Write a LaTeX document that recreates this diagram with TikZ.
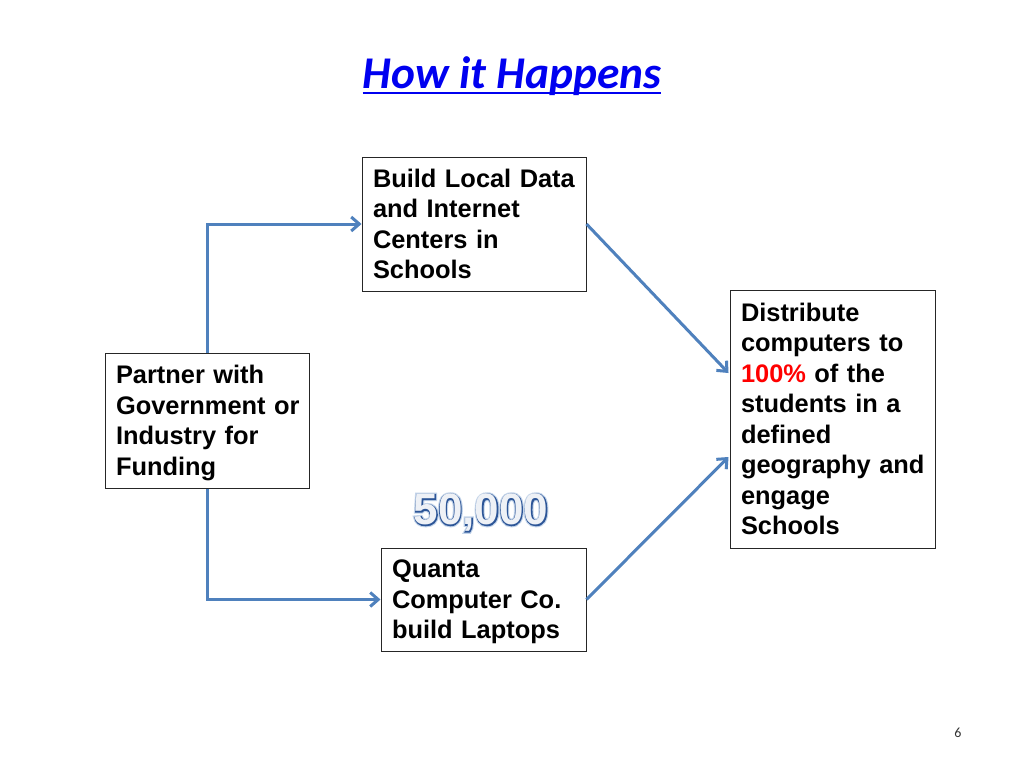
\documentclass[tikz,border=0pt]{standalone}
\usepackage{fontspec}
\setmainfont{Liberation Sans}
\newfontfamily\titlefont{Carlito}
\newfontfamily\numline[FakeBold=4]{Liberation Sans Bold}
\newfontfamily\numglow[FakeBold=9]{Liberation Sans Bold}
\usetikzlibrary{arrows.meta,calc}
\definecolor{arrowblue}{HTML}{4F81BD}
\definecolor{titleblue}{HTML}{0000F0}
\definecolor{numlinec}{HTML}{2C5597}
\definecolor{numglowc}{HTML}{C3D4EA}
\definecolor{numfillc}{HTML}{EEF1F6}
\begin{document}
\begin{tikzpicture}[x=1pt,y=-1pt,
  box/.style={draw=black!85,line width=1pt,fill=white,inner xsep=11pt,inner ysep=0pt,
    align=left,anchor=center,font=\bfseries\fontsize{25.4}{30.5}\selectfont},
  conn/.style={draw=arrowblue,line width=3pt,-{Straight Barb[length=8pt,width=14pt]}},
  numtxt/.style={inner sep=0pt}]
\useasboundingbox[fill=white] (0,0) rectangle (1024,768);

% title
\node[anchor=base,inner sep=0pt,text=titleblue,font=\titlefont\bfseries\itshape\fontsize{45.4}{45.4}\selectfont] (title) at (512,88) {How it Happens};
\draw[titleblue,line width=2.5pt] ($(title.base west)+(0,5)$) -- ($(title.base east)+(0,5)$);

% boxes
\node[box,text width=202pt,minimum height=134pt] (A) at (474,224)
  {\mbox{Build Local Data}\\\mbox{and Internet}\\\mbox{Centers in}\\\mbox{Schools}};
\node[box,text width=182pt,minimum height=135pt] (B) at (207,420.5)
  {\mbox{Partner with}\\\mbox{Government or}\\\mbox{Industry for}\\\raisebox{0pt}[\height][0pt]{Funding}};
\node[box,text width=183pt,minimum height=103pt] (C) at (483.5,599.5)
  {\mbox{Quanta}\\\mbox{Computer Co.}\\\raisebox{0pt}[\height][0pt]{build Laptops}};
\node[box,text width=183pt,minimum height=258pt] (D) at (832.5,419)
  {\mbox{Distribute}\\\mbox{computers to}\\\mbox{\textcolor{red}{100\%} of the}\\\mbox{students in a}\\\mbox{defined}\\\mbox{geography and}\\\mbox{engage}\\\mbox{Schools}};

% 50,000 outlined text
\coordinate (num) at (481,513);
\node[numtxt,text=numglowc,font={\numglow\fontsize{44}{44}\selectfont}] (nglow) at (num) {50,000};
\node[numtxt,text=numlinec,font={\numline\fontsize{44}{44}\selectfont}] (nline) at (num) {50,000};
\node[numtxt,text=numfillc,font={\bfseries\fontsize{44}{44}\selectfont}] (numtop) at (num) {50,000};

% connectors
\coordinate (D1) at ($(D.west)+(-1,-46)$);
\coordinate (D2) at ($(D.west)+(-1,38)$);
\draw[conn] (B.north) |- (A.west);
\draw[conn] (B.south) |- (C.west);
\draw[conn] (A.east) -- (D1);
\draw[conn] (C.east) -- (D2);

% page number
\node[inner sep=0pt,font=\titlefont\fontsize{14}{14}\selectfont,text=black!80] (page) at (958,733) {6};
\end{tikzpicture}
\end{document}
